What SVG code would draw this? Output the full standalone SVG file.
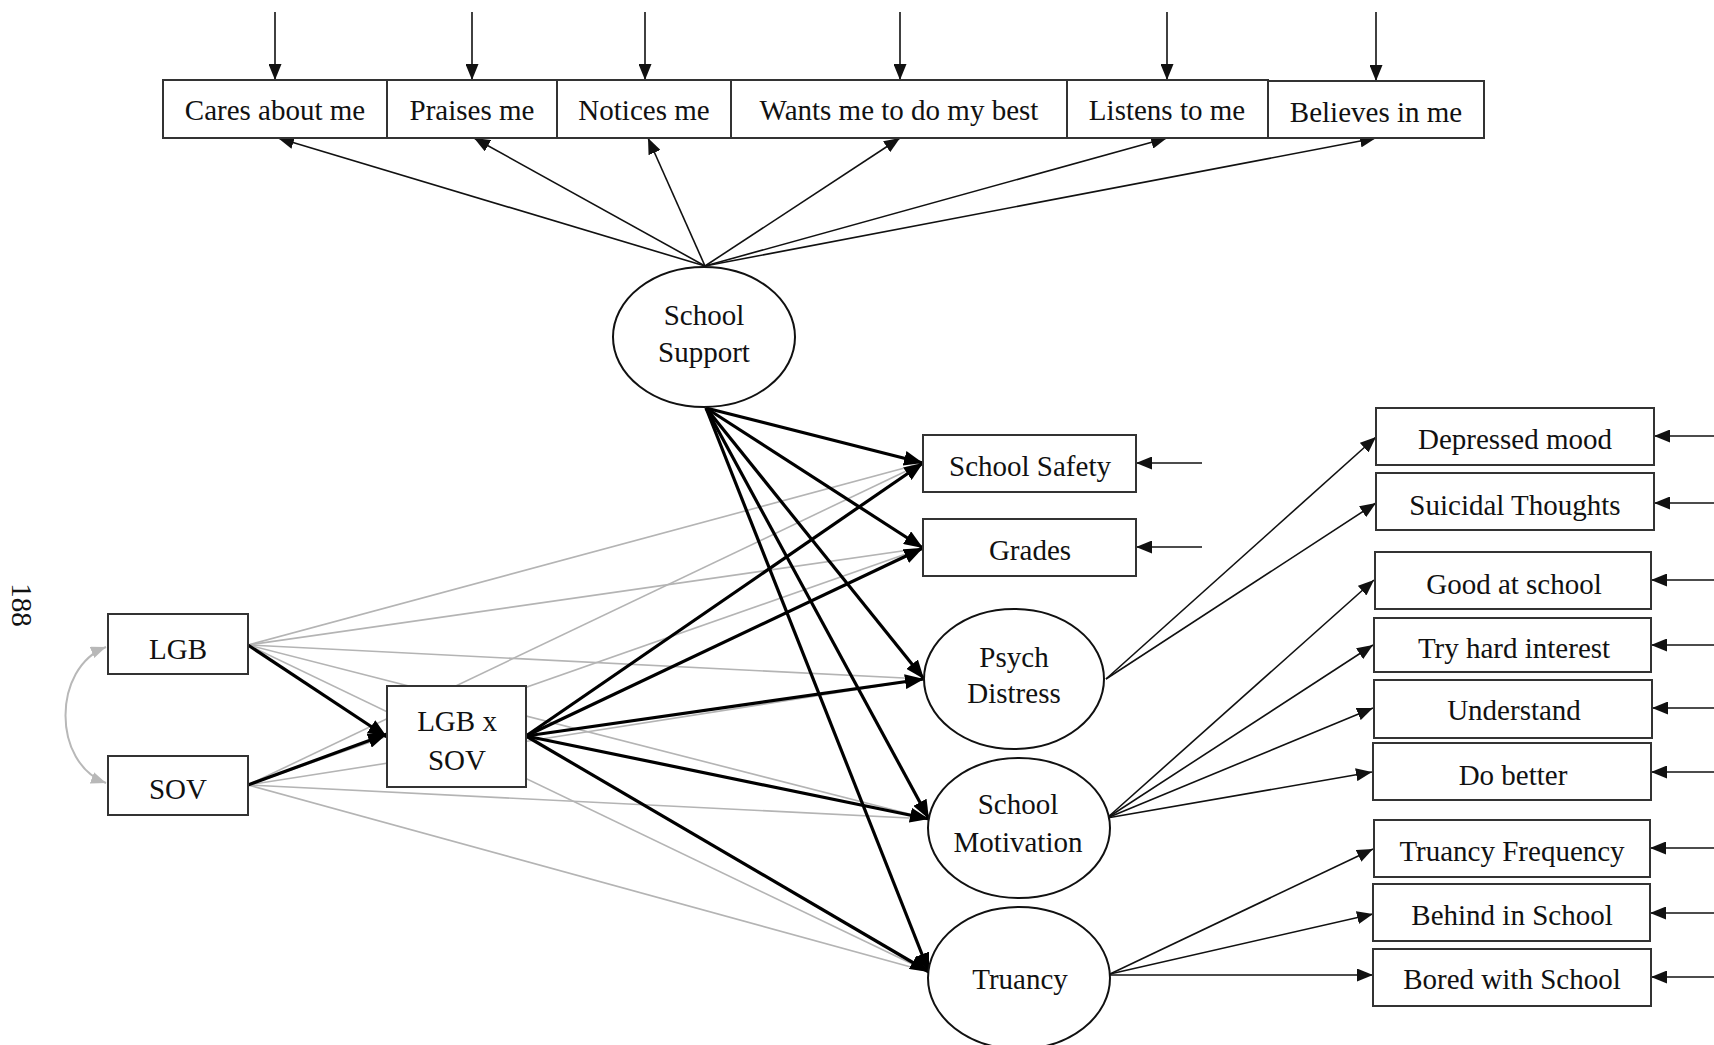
<svg xmlns="http://www.w3.org/2000/svg" width="1714" height="1045" viewBox="0 0 1714 1045">
<style>
text{font-family:"Liberation Serif","Times New Roman",serif;font-size:29px;fill:#111;text-anchor:middle}
.box{fill:#fff;stroke:#333;stroke-width:2}
.ell{fill:#fff;stroke:#111;stroke-width:2}
.thin{stroke:#111;stroke-width:1.6;fill:none;marker-end:url(#a)}
.thick{stroke:#000;stroke-width:3.2;fill:none;marker-end:url(#ab)}
.gray{stroke:#b4b4b4;stroke-width:1.6;fill:none}
</style>
<defs>
<marker id="a" markerUnits="userSpaceOnUse" markerWidth="16" markerHeight="13" refX="16" refY="6.5" orient="auto"><path d="M0,0 L16,6.5 L0,13 z" fill="#111"/></marker>
<marker id="ab" markerUnits="userSpaceOnUse" markerWidth="19" markerHeight="15" refX="19" refY="7.5" orient="auto"><path d="M0,0 L19,7.5 L0,15 z" fill="#000"/></marker>
<marker id="ag" markerUnits="userSpaceOnUse" markerWidth="15" markerHeight="12" refX="15" refY="6" orient="auto"><path d="M0,0 L15,6 L0,12 z" fill="#b8b8b8"/></marker>
<marker id="ags" markerUnits="userSpaceOnUse" markerWidth="15" markerHeight="12" refX="15" refY="6" orient="auto-start-reverse"><path d="M0,0 L15,6 L0,12 z" fill="#b8b8b8"/></marker>
</defs>

<g id="connectors">
  <line class="gray" x1="248" y1="645" x2="923" y2="463"/>
  <line class="gray" x1="248" y1="645" x2="923" y2="548"/>
  <line class="gray" x1="248" y1="645" x2="924" y2="679"/>
  <line class="gray" x1="248" y1="645" x2="929" y2="819"/>
  <line class="gray" x1="248" y1="645" x2="929" y2="972"/>
  <line class="gray" x1="248" y1="785" x2="923" y2="463"/>
  <line class="gray" x1="248" y1="785" x2="923" y2="548"/>
  <line class="gray" x1="248" y1="785" x2="924" y2="679"/>
  <line class="gray" x1="248" y1="785" x2="929" y2="819"/>
  <line class="gray" x1="248" y1="785" x2="929" y2="972"/>
  <path d="M106,647 C52,668 52,763 106,783" fill="none" stroke="#b8b8b8" stroke-width="2" marker-start="url(#ags)" marker-end="url(#ag)"/>

  <line class="thin" x1="275" y1="12" x2="275" y2="80"/>
  <line class="thin" x1="472" y1="12" x2="472" y2="80"/>
  <line class="thin" x1="645" y1="12" x2="645" y2="80"/>
  <line class="thin" x1="900" y1="12" x2="900" y2="80"/>
  <line class="thin" x1="1167" y1="12" x2="1167" y2="80"/>
  <line class="thin" x1="1376" y1="12" x2="1376" y2="81"/>

  <line class="thin" x1="705" y1="266" x2="278" y2="138"/>
  <line class="thin" x1="705" y1="266" x2="474" y2="138"/>
  <line class="thin" x1="705" y1="266" x2="648" y2="138"/>
  <line class="thin" x1="705" y1="266" x2="900" y2="138"/>
  <line class="thin" x1="705" y1="266" x2="1167" y2="138"/>
  <line class="thin" x1="705" y1="266" x2="1376" y2="138"/>

  <line class="thick" x1="706" y1="408" x2="923" y2="463"/>
  <line class="thick" x1="706" y1="408" x2="923" y2="548"/>
  <line class="thick" x1="706" y1="408" x2="924" y2="679"/>
  <line class="thick" x1="706" y1="408" x2="929" y2="819"/>
  <line class="thick" x1="706" y1="408" x2="929" y2="972"/>

  <line class="thick" x1="526" y1="736" x2="923" y2="463"/>
  <line class="thick" x1="526" y1="736" x2="923" y2="548"/>
  <line class="thick" x1="526" y1="736" x2="924" y2="679"/>
  <line class="thick" x1="526" y1="736" x2="929" y2="819"/>
  <line class="thick" x1="526" y1="736" x2="929" y2="972"/>

  <line class="thick" x1="248" y1="645" x2="387" y2="737"/>
  <line class="thick" x1="248" y1="785" x2="387" y2="734"/>

  <line class="thin" x1="1202" y1="463" x2="1136" y2="463"/>
  <line class="thin" x1="1202" y1="547" x2="1136" y2="547"/>

  <line class="thin" x1="1106" y1="679" x2="1376" y2="437"/>
  <line class="thin" x1="1106" y1="679" x2="1376" y2="503"/>
  <line class="thin" x1="1107" y1="818" x2="1374" y2="580"/>
  <line class="thin" x1="1107" y1="818" x2="1373" y2="645"/>
  <line class="thin" x1="1107" y1="818" x2="1373" y2="708"/>
  <line class="thin" x1="1107" y1="818" x2="1372" y2="772"/>
  <line class="thin" x1="1110" y1="974" x2="1373" y2="849"/>
  <line class="thin" x1="1110" y1="974" x2="1373" y2="914"/>
  <line class="thin" x1="1110" y1="975" x2="1373" y2="975"/>

  <line class="thin" x1="1714" y1="436" x2="1654" y2="436"/>
  <line class="thin" x1="1714" y1="503" x2="1654" y2="503"/>
  <line class="thin" x1="1714" y1="580" x2="1651" y2="580"/>
  <line class="thin" x1="1714" y1="645" x2="1651" y2="645"/>
  <line class="thin" x1="1714" y1="708" x2="1652" y2="708"/>
  <line class="thin" x1="1714" y1="772" x2="1651" y2="772"/>
  <line class="thin" x1="1714" y1="848" x2="1650" y2="848"/>
  <line class="thin" x1="1714" y1="913" x2="1650" y2="913"/>
  <line class="thin" x1="1714" y1="977" x2="1651" y2="977"/>
</g>

<text x="22" y="605" transform="rotate(90 22 605)" dy="10">188</text>

<g id="cares"><rect class="box" x="163" y="80" width="224" height="58"/><text x="275" y="120">Cares about me</text></g>
<g id="praises"><rect class="box" x="387" y="80" width="170" height="58"/><text x="472" y="120">Praises me</text></g>
<g id="notices"><rect class="box" x="557" y="80" width="174" height="58"/><text x="644" y="120">Notices me</text></g>
<g id="wants"><rect class="box" x="731" y="80" width="336" height="58"/><text x="899" y="120">Wants me to do my best</text></g>
<g id="listens"><rect class="box" x="1067" y="80" width="201" height="58"/><text x="1167" y="120">Listens to me</text></g>
<g id="believes"><rect class="box" x="1268" y="81" width="216" height="57"/><text x="1376" y="122">Believes in me</text></g>

<g id="school-support"><ellipse class="ell" cx="704" cy="337" rx="91" ry="70"/><text x="704" y="325">School</text><text x="704" y="362">Support</text></g>

<g id="school-safety"><rect class="box" x="923" y="435" width="213" height="57"/><text x="1030" y="476">School Safety</text></g>
<g id="grades"><rect class="box" x="923" y="519" width="213" height="57"/><text x="1030" y="560">Grades</text></g>

<g id="psych-distress"><ellipse class="ell" cx="1014" cy="679" rx="90" ry="70"/><text x="1014" y="667">Psych</text><text x="1014" y="703">Distress</text></g>
<g id="school-motivation"><ellipse class="ell" cx="1019" cy="828" rx="91" ry="70"/><text x="1018" y="814">School</text><text x="1018" y="852">Motivation</text></g>
<g id="truancy"><ellipse class="ell" cx="1019" cy="978" rx="91" ry="71"/><text x="1020" y="989">Truancy</text></g>

<g id="lgb"><rect class="box" x="108" y="614" width="140" height="60"/><text x="178" y="659">LGB</text></g>
<g id="sov"><rect class="box" x="108" y="756" width="140" height="59"/><text x="178" y="799">SOV</text></g>
<g id="lgbxsov"><rect class="box" x="387" y="686" width="139" height="101"/><text x="457" y="731">LGB x</text><text x="457" y="770">SOV</text></g>

<g id="depressed"><rect class="box" x="1376" y="408" width="278" height="57"/><text x="1515" y="449">Depressed mood</text></g>
<g id="suicidal"><rect class="box" x="1376" y="473" width="278" height="57"/><text x="1515" y="515">Suicidal Thoughts</text></g>
<g id="good"><rect class="box" x="1375" y="552" width="276" height="57"/><text x="1514" y="594">Good at school</text></g>
<g id="tryhard"><rect class="box" x="1374" y="618" width="277" height="54"/><text x="1514" y="658">Try hard interest</text></g>
<g id="understand"><rect class="box" x="1374" y="680" width="278" height="58"/><text x="1514" y="720">Understand</text></g>
<g id="dobetter"><rect class="box" x="1373" y="743" width="278" height="57"/><text x="1513" y="785">Do better</text></g>
<g id="truancy-freq"><rect class="box" x="1374" y="820" width="276" height="57"/><text x="1512" y="861">Truancy Frequency</text></g>
<g id="behind"><rect class="box" x="1373" y="884" width="277" height="57"/><text x="1512" y="925">Behind in School</text></g>
<g id="bored"><rect class="box" x="1373" y="949" width="278" height="57"/><text x="1512" y="989">Bored with School</text></g>
</svg>
